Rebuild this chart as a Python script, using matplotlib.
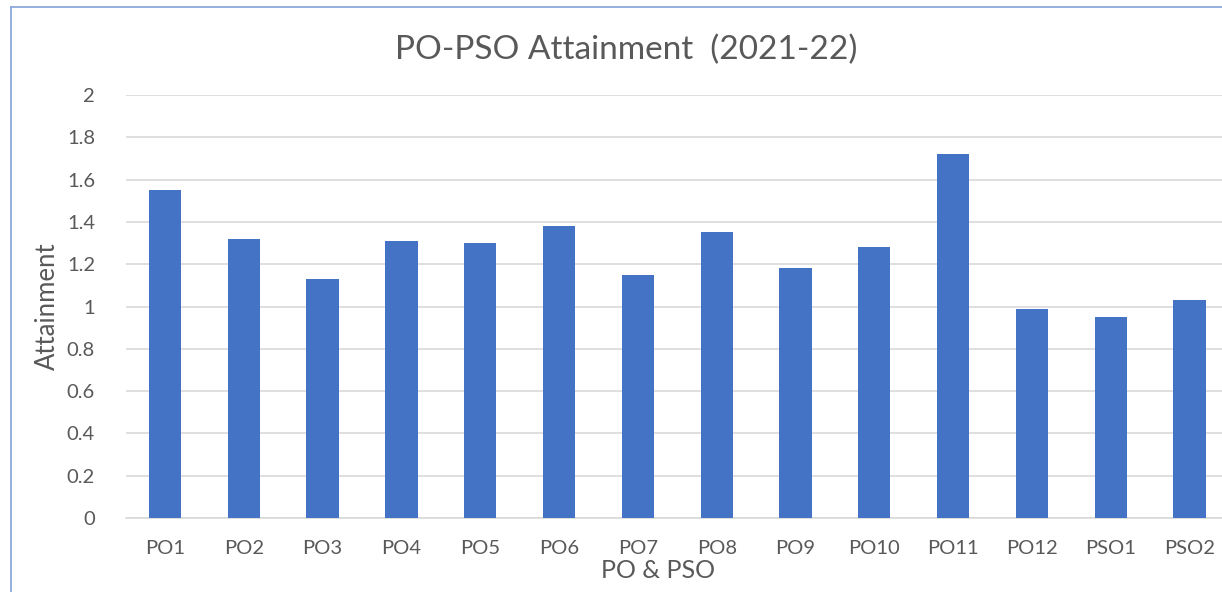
import matplotlib
matplotlib.use("Agg")
import matplotlib.pyplot as plt
from matplotlib.lines import Line2D

categories = ["PO1", "PO2", "PO3", "PO4", "PO5", "PO6", "PO7", "PO8", "PO9",
              "PO10", "PO11", "PO12", "PSO1", "PSO2"]
values = [1.55, 1.32, 1.13, 1.31, 1.30, 1.38, 1.15, 1.35, 1.18, 1.28, 1.72,
          0.99, 0.95, 1.03]
yticks = [0, 0.2, 0.4, 0.6, 0.8, 1, 1.2, 1.4, 1.6, 1.8, 2]
ytick_labels = ["0", "0.2", "0.4", "0.6", "0.8", "1", "1.2", "1.4", "1.6", "1.8", "2"]

plt.rcParams['font.family'] = ['Lato', 'DejaVu Sans']
txt = "#595959"

fig = plt.figure(figsize=(12.22, 5.92), dpi=100)
W, H = 1222, 592
ax = fig.add_axes([125.6 / W, 1 - 518 / H, (1229 - 125.6) / W, 423 / H])

x = list(range(len(categories)))
ax.bar(x, values, width=0.41, color="#4472C4", zorder=3)
ax.set_xlim(-0.5, len(categories) - 0.5)
ax.set_ylim(0, 2)
ax.set_yticks(yticks)
ax.set_yticklabels(ytick_labels)
ax.set_xticks(x)
ax.set_xticklabels(categories)
ax.grid(axis="y", color="#D9D9D9", linewidth=1.2, zorder=0)
ax.set_axisbelow(True)
for s in ["top", "right", "left"]:
    ax.spines[s].set_visible(False)
ax.spines["bottom"].set_color("#D9D9D9")
ax.spines["bottom"].set_linewidth(1.2)
ax.tick_params(axis="both", length=0, labelsize=14.5, colors=txt)
ax.tick_params(axis="y", pad=22)
ax.tick_params(axis="x", pad=16)

fig.text(626 / W, 1 - 50 / H, "PO-PSO Attainment  (2021-22)", ha="center",
         va="center", fontsize=24, color=txt)
fig.text(658 / W, 1 - 571 / H, "PO & PSO", ha="center", va="center",
         fontsize=18, color=txt)
fig.text(47 / W, 1 - 306 / H, "Attainment", ha="center", va="center",
         rotation=90, fontsize=18.5, color=txt)

border = "#8EA9DB"
fig.add_artist(Line2D([10.5 / W, 10.5 / W], [0, 1 - 7 / H], color=border, lw=1.3,
                      transform=fig.transFigure))
fig.add_artist(Line2D([10.5 / W, 1], [1 - 7 / H, 1 - 7 / H], color=border, lw=1.3,
                      transform=fig.transFigure))

fig.savefig("out.png", dpi=100)
